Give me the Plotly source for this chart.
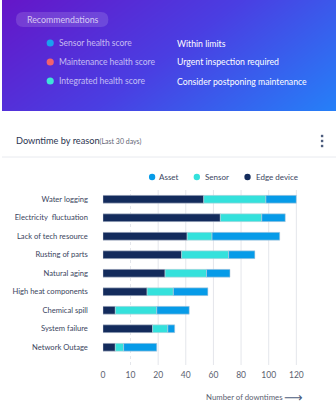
import numpy as np
import plotly.graph_objects as go

W, H = 336, 419

# ---------------- data ----------------
categories = ["Water logging", "Electricity  fluctuation", "Lack of tech resource",
              "Rusting of parts", "Natural aging", "High heat components",
              "Chemical spill", "System failure", "Network Outage"]
edge_device = [53, 65, 41, 37, 25, 16, 4.5, 18, 4.5]
sensor = [45, 30, 18, 34, 30, 15, 15, 9, 3]
asset = [22, 17, 49, 19, 17, 25, 23, 5, 12]
tick_values = [0, 10, 20, 40, 60, 80, 100, 120]
tick_labels = [str(v) for v in tick_values]

rec_labels = ["Sensor health score", "Maintenance health score", "Integrated health score"]
rec_status = ["Within limits", "Urgent inspection required", "Consider postponing maintenance"]

# ---------------- style ----------------
C_EDGE, C_SENSOR, C_ASSET = "#132b5c", "#34e1dc", "#069be8"
REC_COLORS = ["#1aa0f0", "#f2626c", "#3fe3d8"]
FONT = "Lato"


def px(x):
    return x / W


def py(y):
    return 1 - y / H


tick_idx = list(range(len(tick_values)))


def to_axis(v):
    # axis uses evenly spaced ticks labelled 0,10,20,40,...
    return np.interp(v, tick_values, tick_idx)


fig = go.Figure()

# gradient header panel
fig.add_trace(go.Heatmap(
    x=[0, 1], y=[0, 1], z=[[0.32, 1.0], [0.0, 0.7]],
    colorscale=[[0, "#6516c8"], [0.5, "#4a3ee2"], [1, "#2580f8"]],
    zsmooth="best", showscale=False, hoverinfo="skip",
    xaxis="x2", yaxis="y2"))

# stacked bars
series = [("Edge device", edge_device, C_EDGE), ("Sensor", sensor, C_SENSOR), ("Asset", asset, C_ASSET)]
cum = np.zeros(len(categories))
for name, vals, col in series:
    vals = np.array(vals, dtype=float)
    b = to_axis(cum)
    e = to_axis(cum + vals)
    fig.add_trace(go.Bar(
        y=categories, x=e - b, base=b, orientation="h", name=name,
        marker=dict(color=col, line=dict(color="rgba(200,206,218,0.9)", width=0.6)),
        width=0.42, showlegend=False,
        customdata=vals, hovertemplate="%{y}<br>" + name + ": %{customdata}<extra></extra>"))
    cum = cum + vals

x_left, x_right = 101.5, 306
unit = 27.8
y_top, y_bot = 190, 365
cat_px = 18.5
n = len(categories)

fig.update_layout(
    width=W, height=H, margin=dict(l=0, r=0, t=0, b=0),
    paper_bgcolor="white", plot_bgcolor="rgba(0,0,0,0)",
    barmode="overlay", showlegend=False,
    font=dict(family=FONT, color="#3a4560"),
    xaxis=dict(domain=[px(x_left), px(x_right)], range=[0, (x_right - x_left) / unit],
               tickvals=tick_idx, ticktext=tick_labels, showgrid=False, zeroline=False,
               showline=False, ticks="outside", ticklen=2, tickcolor="rgba(0,0,0,0)",
               tickfont=dict(size=8.5, color="#5b6170", family=FONT), fixedrange=True),
    yaxis=dict(domain=[py(y_bot), py(y_top)],
               range=[(y_bot - y_top) / cat_px - 0.5, -0.5],
               type="category", categoryorder="array", categoryarray=categories,
               showgrid=False, zeroline=False, showline=False, ticks="",
               ticklabelstandoff=14,
               tickfont=dict(size=7.6, color="#3a4560", family=FONT), fixedrange=True),
    xaxis2=dict(domain=[0, 1], range=[0, 1], visible=False, fixedrange=True),
    yaxis2=dict(domain=[py(111), 1], range=[0, 1], visible=False, fixedrange=True),
)

shapes = []
# vertical gridlines
for i in tick_idx[1:]:
    shapes.append(dict(type="line", xref="x", yref="paper", x0=i, x1=i,
                       y0=py(y_bot), y1=py(y_top),
                       line=dict(color="#e4e6eb", width=1, dash="dot" if i == 1 else "solid"),
                       layer="below"))
# separator
shapes.append(dict(type="line", xref="paper", yref="paper", x0=0, x1=1, y0=py(157), y1=py(157),
                   line=dict(color="#e8eaef", width=1)))


def rounded_rect(x0, y0, x1, y1, r):
    X = lambda v: px(v)
    Y = lambda v: py(v)
    return (f"M {X(x0 + r)} {Y(y0)} L {X(x1 - r)} {Y(y0)} Q {X(x1)} {Y(y0)} {X(x1)} {Y(y0 + r)} "
            f"L {X(x1)} {Y(y1 - r)} Q {X(x1)} {Y(y1)} {X(x1 - r)} {Y(y1)} "
            f"L {X(x0 + r)} {Y(y1)} Q {X(x0)} {Y(y1)} {X(x0)} {Y(y1 - r)} "
            f"L {X(x0)} {Y(y0 + r)} Q {X(x0)} {Y(y0)} {X(x0 + r)} {Y(y0)} Z")


shapes.append(dict(type="path", xref="paper", yref="paper", path=rounded_rect(14, 12, 107, 27, 7.5),
                   fillcolor="rgba(255,255,255,0.14)", line=dict(width=0)))


def circle(cx, cy, r, color):
    return dict(type="circle", xref="paper", yref="paper",
                x0=px(cx - r), x1=px(cx + r), y0=py(cy + r), y1=py(cy - r),
                fillcolor=color, line=dict(width=0))


rows_y = [43, 62, 81]
for yy, col in zip(rows_y, REC_COLORS):
    shapes.append(circle(48.5, yy, 3.6, col))

# chart legend dots
legend_items = [("Asset", C_ASSET, 151, 156), ("Sensor", C_SENSOR, 196, 202), ("Edge device", C_EDGE, 247, 254)]
for _, col, cx, _ in legend_items:
    shapes.append(circle(cx, 177, 3.2, col))

# kebab menu
for yy in [136, 141, 146]:
    shapes.append(dict(type="rect", xref="paper", yref="paper", x0=px(320.8), x1=px(323.2),
                       y0=py(yy + 1.2), y1=py(yy - 1.2), fillcolor="#4d5d7e", line=dict(width=0)))
fig.update_layout(shapes=shapes)

ann = []


def text(x, y, s, size, color, anchor="left", family=FONT):
    ann.append(dict(x=px(x), y=py(y), xref="paper", yref="paper", text=s, showarrow=False,
                    xanchor=anchor, yanchor="middle", font=dict(size=size, color=color, family=family)))


text(23, 19.5, "Recommendations", 8.8, "rgba(255,255,255,0.72)")
for yy, lab, st in zip(rows_y, rec_labels, rec_status):
    text(55, yy, lab, 8.5, "rgba(255,255,255,0.68)")
    text(174, yy, st, 8.7, "#ffffff")

text(12, 140, "Downtime by reason<span style='font-size:7px;fill:#5f6675'>(Last 30 days)</span>",
     9.2, "#2b3550")
for lab, col, _, tx in legend_items:
    text(tx, 177, lab, 8, "#3a4560")

text(203, 397, "Number of downtimes", 7.8, "#5b6170")
text(282, 397, "⟶", 13, "#4d5d7e", family="DejaVu Sans")
fig.update_layout(annotations=ann)

fig.write_html("out.html")
